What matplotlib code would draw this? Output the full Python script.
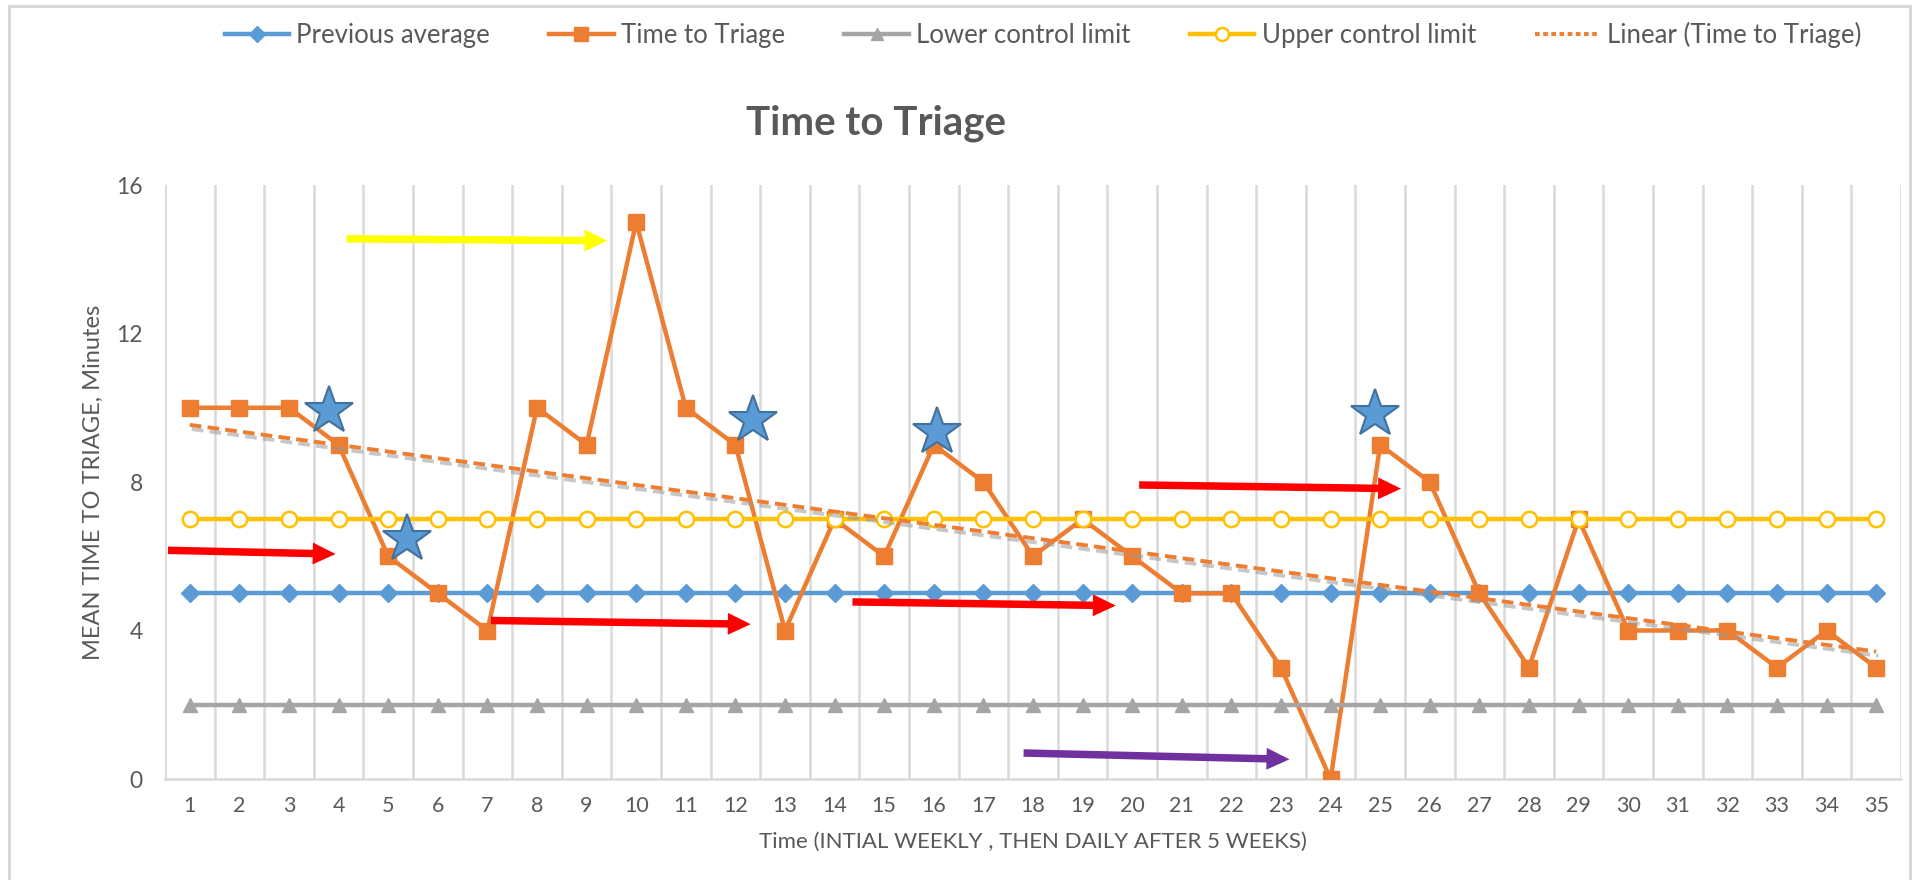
import numpy as np
import matplotlib
matplotlib.use("Agg")
import matplotlib.pyplot as plt
from matplotlib.lines import Line2D
from matplotlib.patches import Rectangle
import matplotlib.patheffects as pe

plt.rcParams['font.family'] = ['Lato', 'DejaVu Sans']

# ---------------- data ----------------
periods = list(range(1, 36))
time_to_triage = [10, 10, 10, 9, 6, 5, 4, 10, 9, 15, 10, 9, 4, 7, 6, 9, 8, 6, 7, 6,
                  5, 5, 3, 0, 9, 8, 5, 3, 7, 4, 4, 4, 3, 4, 3]
previous_average = [5] * 35
lower_control_limit = [2] * 35
upper_control_limit = [7] * 35
y_ticks = [0, 4, 8, 12, 16]

# annotation shapes (stars and arrows) in data coordinates
star_x = [3.8, 5.37, 12.36, 16.06, 24.9]
star_y = [9.9, 6.46, 9.67, 9.34, 9.84]
arrow_starts = [(4.16, 14.55), (0.56, 6.16), (7.07, 4.27), (14.36, 4.77), (20.14, 7.92), (17.81, 0.70)]
arrow_ends = [(9.42, 14.50), (3.94, 6.06), (12.31, 4.17), (19.67, 4.67), (25.42, 7.82), (23.17, 0.53)]
arrow_colors = ['#FFFF00', '#FF0000', '#FF0000', '#FF0000', '#FF0000', '#7030A0']

# ---------------- styling ----------------
C_BLUE = '#5B9BD5'
C_ORANGE = '#ED7D31'
C_GRAY = '#A5A5A5'
C_GOLD = '#FFC000'
C_TEXT = '#595959'
C_GRID = '#D9D9D9'

fig = plt.figure(figsize=(19.19, 8.80), dpi=100)
fig.patch.set_facecolor('white')
L, R, B, T = 165 / 1919, 1901 / 1919, (880 - 779) / 880, (880 - 185) / 880
ax = fig.add_axes([L, B, R - L, T - B])

x = np.array(periods)
lw = 3.2
h1, = ax.plot(x, previous_average, color=C_BLUE, lw=lw, marker='D', ms=9,
              mfc=C_BLUE, mec=C_BLUE, label='Previous average', zorder=3)
h2, = ax.plot(x, time_to_triage, color=C_ORANGE, lw=lw, marker='s', ms=11.5,
              mfc=C_ORANGE, mec=C_ORANGE, label='Time to Triage', zorder=4)
h3, = ax.plot(x, lower_control_limit, color=C_GRAY, lw=lw, marker='^', ms=10.5,
              mfc=C_GRAY, mec=C_GRAY, label='Lower control limit', zorder=5)
h4, = ax.plot(x, upper_control_limit, color=C_GOLD, lw=lw, marker='o', ms=11,
              mfc='white', mec=C_GOLD, mew=1.8, label='Upper control limit', zorder=6)

# linear trendline of Time to Triage (Excel-style least squares)
coef = np.polyfit(x, np.array(time_to_triage, dtype=float), 1)
trend = np.polyval(coef, x)
ax.plot(x, trend, color=C_ORANGE, lw=2.8, ls=(0, (3, 1.6)), zorder=7,
        path_effects=[pe.SimpleLineShadow(offset=(1.5, -3), shadow_color='#9A9A9A', alpha=0.55),
                      pe.Normal()])
h5 = Line2D([], [], color=C_ORANGE, lw=2.8, ls=(0, (1.2, 0.9)), label='Linear (Time to Triage)')

# stars
ax.plot(star_x, star_y, ls='none', marker='*', ms=36, mfc=C_BLUE, mec='#41719C',
        mew=1.5, zorder=9)

# arrows
for (sx, sy), (ex, ey), c in zip(arrow_starts, arrow_ends, arrow_colors):
    ax.annotate('', xy=(ex, ey), xytext=(sx, sy),
                arrowprops=dict(arrowstyle='simple,head_length=1.1,head_width=1.05,tail_width=0.36',
                                mutation_scale=15, color=c, shrinkA=0, shrinkB=0, lw=0),
                zorder=10, annotation_clip=False)

# axes
ax.set_xlim(0.5, 35.5)
ax.set_ylim(0, 16)
ax.set_xticks(periods)
ax.set_xticklabels([str(p) for p in periods])
ax.set_xticks(np.arange(0.5, 36, 1.0), minor=True)
ax.set_yticks(y_ticks)
ax.set_yticklabels([str(v) for v in y_ticks])
ax.tick_params(axis='x', which='both', length=0, pad=12, labelsize=15.5, labelcolor=C_TEXT)
ax.tick_params(axis='y', which='both', length=0, pad=16, labelsize=16.5, labelcolor=C_TEXT)
ax.grid(which='minor', axis='x', color=C_GRID, lw=1.8, zorder=0)
ax.grid(which='major', visible=False)
for s in ['left', 'right', 'top']:
    ax.spines[s].set_visible(False)
ax.spines['bottom'].set_color(C_GRID)
ax.spines['bottom'].set_linewidth(1.8)
ax.set_axisbelow(True)

ax.set_ylabel('MEAN TIME TO TRIAGE, Minutes', fontsize=17, color=C_TEXT, va='center')
ax.yaxis.set_label_coords((93 - 165) / (1901 - 165), 0.5)
ax.set_xlabel('Time (INTIAL WEEKLY , THEN DAILY AFTER 5 WEEKS)', fontsize=16, color=C_TEXT, va='center')
ax.xaxis.set_label_coords(0.5, -(842 - 779) / (779 - 185))

# title
fig.text(876 / 1919, 1 - 135 / 880, 'Time to Triage', fontsize=29, fontweight='bold',
         color=C_TEXT, ha='center', va='baseline')

# legend
leg = fig.legend(handles=[h1, h2, h3, h4, h5], loc='center', ncol=5,
                 bbox_to_anchor=(1043 / 1919, 1 - 35 / 880), frameon=False,
                 fontsize=18.5, handlelength=2.5, handletextpad=0.3, columnspacing=2.3,
                 labelcolor=C_TEXT, markerscale=0.85)

# chart border
fig.add_artist(Rectangle((9 / 1919, -0.02), (1910 - 9) / 1919, 1 - 6 / 880 + 0.02,
                         transform=fig.transFigure, fill=False, edgecolor=C_GRID, lw=2.2))

fig.savefig('out.png', dpi=100, facecolor='white')
